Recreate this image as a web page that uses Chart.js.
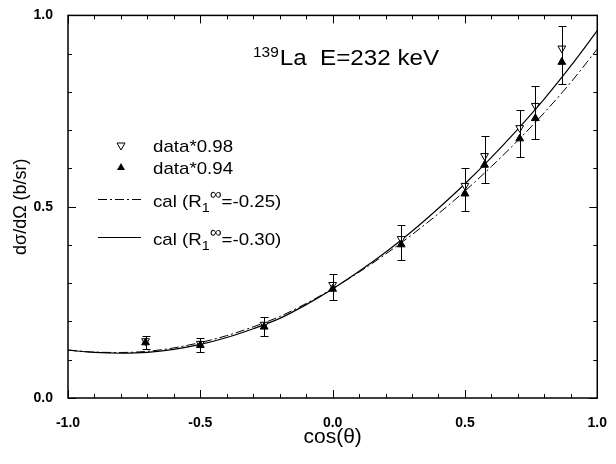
<!DOCTYPE html>
<html>
<head>
<meta charset="utf-8">
<script src="https://cdn.jsdelivr.net/npm/chart.js@4.4.0/dist/chart.umd.min.js"></script>
<style>
  html, body { margin: 0; padding: 0; background: #fff; }
  #wrap { width: 616px; height: 464px; }
</style>
</head>
<body>
<div id="wrap"><canvas id="myChart" width="616" height="464"></canvas></div>
<script>
// measured points
const cosTheta = [-0.707, -0.5, -0.259, 0, 0.259, 0.5, 0.574, 0.707, 0.766, 0.866];
const data098 = [0.149, 0.142, 0.192, 0.296, 0.416, 0.555, 0.633, 0.706, 0.764, 0.914];
const err098 = [0.012, 0.014, 0.020, 0.028, 0.036, 0.045, 0.051, 0.048, 0.052, 0.058];
const data094 = [0.145, 0.138, 0.186, 0.285, 0.401, 0.534, 0.609, 0.678, 0.731, 0.878];
const err094 = [0.016, 0.019, 0.025, 0.030, 0.040, 0.044, 0.047, 0.049, 0.055, 0.058];

// calculated curves
const curveX = [-1.0, -0.9, -0.8, -0.7, -0.6, -0.5, -0.4, -0.3, -0.2, -0.1, 0.0,
                0.1, 0.2, 0.3, 0.4, 0.5, 0.6, 0.7, 0.8, 0.9, 1.0];
const cal025 = [0.125, 0.120, 0.119, 0.122, 0.131, 0.145, 0.163, 0.186, 0.213, 0.247, 0.286,
                0.329, 0.376, 0.427, 0.482, 0.541, 0.605, 0.673, 0.746, 0.825, 0.912];
const cal030 = [0.125, 0.119, 0.117, 0.119, 0.127, 0.140, 0.158, 0.181, 0.208, 0.244, 0.285,
                0.331, 0.381, 0.436, 0.496, 0.560, 0.629, 0.703, 0.782, 0.868, 0.960];

const xTicks = [-1.0, -0.5, 0.0, 0.5, 1.0];
const yTicks = [0.0, 0.5, 1.0];

const FONT = "'Liberation Sans', Arial, sans-serif";

function pts(xs, ys) {
    return xs.map((x, i) => ({ x: x, y: ys[i] }));
}

// text slightly stretched sideways like the scanned figure
function txt(ctx, s, x, y, size, weight) {
    ctx.save();
    ctx.font = (weight || "normal") + " " + size + "px " + FONT;
    ctx.translate(x, y);
    ctx.scale(1.1, 1);
    ctx.fillText(s, 0, 0);
    const w = ctx.measureText(s).width * 1.1;
    ctx.restore();
    return w;
}

const extras = {
    id: "extras",
    afterDatasetsDraw(chart) {
        const ctx = chart.ctx;
        const xs = chart.scales.x, ys = chart.scales.y;
        const a = chart.chartArea;
        ctx.save();
        ctx.strokeStyle = "#000";
        ctx.fillStyle = "#000";

        // error bars: upper cap from the 0.98 set, lower cap from the 0.94 set
        ctx.lineWidth = 1;
        cosTheta.forEach((c, i) => {
            const px = Math.round(xs.getPixelForValue(c)) + 0.5;
            const top = Math.round(ys.getPixelForValue(data098[i] + err098[i])) + 0.5;
            const bot = Math.round(ys.getPixelForValue(data094[i] - err094[i])) + 0.5;
            ctx.beginPath();
            ctx.moveTo(px, top); ctx.lineTo(px, bot);
            ctx.moveTo(px - 4, top); ctx.lineTo(px + 4, top);
            ctx.moveTo(px - 4, bot); ctx.lineTo(px + 4, bot);
            ctx.stroke();
        });

        // frame
        ctx.lineWidth = 1.5;
        ctx.strokeRect(a.left, a.top, a.right - a.left, a.bottom - a.top);

        // inward ticks
        ctx.lineWidth = 1;
        for (let i = -10; i <= 10; i++) {
            const px = Math.round(xs.getPixelForValue(i / 10)) + 0.5;
            const len = i % 5 === 0 ? 8 : 4;
            ctx.beginPath();
            ctx.moveTo(px, a.bottom); ctx.lineTo(px, a.bottom - len);
            ctx.moveTo(px, a.top); ctx.lineTo(px, a.top + len);
            ctx.stroke();
        }
        for (let i = 0; i <= 10; i++) {
            const py = Math.round(ys.getPixelForValue(i / 10)) + 0.5;
            const len = i % 5 === 0 ? 8 : 4;
            ctx.beginPath();
            ctx.moveTo(a.left, py); ctx.lineTo(a.left + len, py);
            ctx.moveTo(a.right, py); ctx.lineTo(a.right - len, py);
            ctx.stroke();
        }

        // title inside plot
        ctx.textBaseline = "alphabetic";
        ctx.textAlign = "left";
        let x = 253;
        x += txt(ctx, "139", x, 57, 14);
        txt(ctx, "La  E=232 keV", x + 1, 65, 22);

        // legend
        const mk = chart.data.datasets;
        const lx = 121;
        ctx.beginPath();
        ctx.moveTo(lx - 4, 143); ctx.lineTo(lx + 4, 143); ctx.lineTo(lx, 150); ctx.closePath();
        ctx.fillStyle = "#fff"; ctx.fill(); ctx.stroke();
        ctx.fillStyle = "#000";
        txt(ctx, "data*0.98", 153, 152, 17);
        ctx.beginPath();
        ctx.moveTo(lx - 4, 170); ctx.lineTo(lx + 4, 170); ctx.lineTo(lx, 163); ctx.closePath();
        ctx.fill();
        txt(ctx, "data*0.94", 153, 174, 17);

        ctx.lineWidth = 1;
        ctx.setLineDash(mk[2].borderDash);
        ctx.beginPath(); ctx.moveTo(98, 199.5); ctx.lineTo(141, 199.5); ctx.stroke();
        ctx.setLineDash([]);
        ctx.beginPath(); ctx.moveTo(98, 237.5); ctx.lineTo(141, 237.5); ctx.stroke();

        [["-0.25", 207], ["-0.30", 245]].forEach(([r, by]) => {
            let tx = 153;
            tx += txt(ctx, "cal (R", tx, by, 17);
            tx += txt(ctx, "1", tx, by + 5, 13);
            tx += txt(ctx, "\u221E", tx, by - 8, 15);
            txt(ctx, "=" + r + ")", tx, by, 17);
        });
        ctx.restore();
    }
};

const tickFont = { family: FONT, size: 14, weight: "bold" };

new Chart(document.getElementById("myChart"), {
    type: "scatter",
    data: {
        datasets: [
            {
                label: "data*0.98",
                data: pts(cosTheta, data098),
                pointStyle: "triangle",
                rotation: 180,
                radius: 4.5,
                backgroundColor: "#fff",
                borderColor: "#000",
                borderWidth: 1,
                order: 1,
            },
            {
                label: "data*0.94",
                data: pts(cosTheta, data094),
                pointStyle: "triangle",
                radius: 4.5,
                backgroundColor: "#000",
                borderColor: "#000",
                borderWidth: 1,
                order: 0,
            },
            {
                label: "cal (R1=-0.25)",
                type: "line",
                data: pts(curveX, cal025),
                borderColor: "#000",
                borderWidth: 1,
                borderDash: [9, 3, 2, 3],
                pointRadius: 0,
                fill: false,
                cubicInterpolationMode: "monotone",
                order: 2,
            },
            {
                label: "cal (R1=-0.30)",
                type: "line",
                data: pts(curveX, cal030),
                borderColor: "#000",
                borderWidth: 1.2,
                pointRadius: 0,
                fill: false,
                cubicInterpolationMode: "monotone",
                order: 3,
            },
        ],
    },
    options: {
        responsive: false,
        animation: false,
        layout: { padding: { left: 0, right: 11, top: 10, bottom: 0 } },
        plugins: {
            legend: { display: false },
            tooltip: { enabled: false },
        },
        scales: {
            x: {
                type: "linear",
                min: -1, max: 1,
                afterBuildTicks: (s) => { s.ticks = xTicks.map(v => ({ value: v })); },
                afterFit: (s) => { s.height = 66; },
                ticks: { color: "#000", font: tickFont, padding: 9, callback: v => v.toFixed(1), maxRotation: 0 },
                grid: { display: false },
                border: { display: false },
                title: { display: true, text: "cos(\u03B8)", color: "#000", font: { family: FONT, size: 21 }, padding: { top: 0, bottom: 14 } },
            },
            y: {
                type: "linear",
                min: 0, max: 1,
                afterBuildTicks: (s) => { s.ticks = yTicks.map(v => ({ value: v })); },
                afterFit: (s) => { s.width = 68; },
                ticks: { color: "#000", font: tickFont, padding: 7, callback: v => v.toFixed(1) },
                grid: { display: false },
                border: { display: false },
                title: { display: true, text: "d\u03C3/d\u03A9 (b/sr)", color: "#000", font: { family: FONT, size: 18 }, padding: { top: 10, bottom: 0 } },
            },
        },
    },
    plugins: [extras],
});
</script>
</body>
</html>
